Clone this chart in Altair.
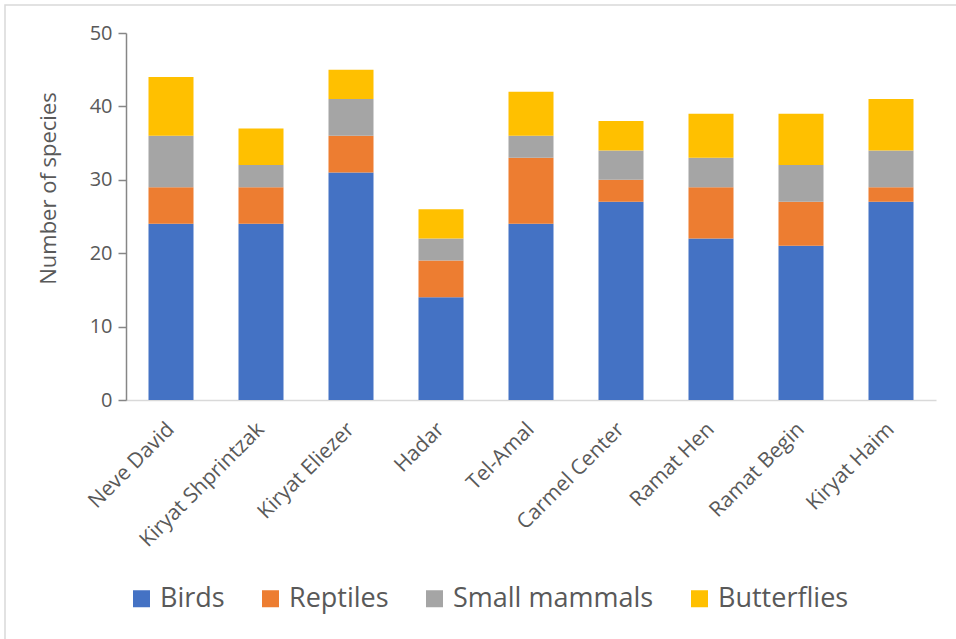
import altair as alt
import pandas as pd

# Neighbourhoods along the x axis, left to right
sites = ["Neve David", "Kiryat Shprintzak", "Kiryat Eliezer", "Hadar", "Tel-Amal",
         "Carmel Center", "Ramat Hen", "Ramat Begin", "Kiryat Haim"]

# Species counts per taxon group
birds = [24, 24, 31, 14, 24, 27, 22, 21, 27]
reptiles = [5, 5, 5, 5, 9, 3, 7, 6, 2]
small_mammals = [7, 3, 5, 3, 3, 4, 4, 5, 5]
butterflies = [8, 5, 4, 4, 6, 4, 6, 7, 7]

groups = ["Birds", "Reptiles", "Small mammals", "Butterflies"]
colors = ["#4472C4", "#ED7D31", "#A5A5A5", "#FFC000"]

rows = []
for gi, (name, vals) in enumerate(zip(groups, [birds, reptiles, small_mammals, butterflies])):
    for site, v in zip(sites, vals):
        rows.append({"site": site, "group": name, "count": v, "order": gi})
df = pd.DataFrame(rows)

FONT = "Open Sans"
TXT = "#595959"

bars = alt.Chart(df).mark_bar(size=45).encode(
    x=alt.X("site:N", sort=sites, title=None,
            scale=alt.Scale(paddingInner=0.5, paddingOuter=0.25),
            axis=alt.Axis(labelAngle=-45, labelAlign="right", labelBaseline="middle",
                          labelPadding=26, labelFontSize=21, labelColor=TXT, labelFont=FONT,
                          ticks=False, domainColor="#D9D9D9", domainWidth=1.5,
                          labelOverlap=False, labelLimit=0)),
    y=alt.Y("count:Q", stack="zero", title="Number of species",
            scale=alt.Scale(domain=[0, 50], nice=False),
            axis=alt.Axis(values=[0, 10, 20, 30, 40, 50], grid=False,
                          labelFontSize=20, labelColor=TXT, labelFont=FONT, labelPadding=6,
                          tickSize=8, tickColor="#868686", tickWidth=1.5,
                          domainColor="#868686", domainWidth=1.5,
                          titleFontSize=22, titleFont=FONT, titleColor=TXT,
                          titleFontWeight="normal", titleX=-78, titleY=155,
                          titleAngle=-90, titleBaseline="middle", titleAlign="center")),
    color=alt.Color("group:N", sort=groups,
                    scale=alt.Scale(domain=groups, range=colors),
                    legend=alt.Legend(title=None, orient="none", direction="horizontal",
                                      legendX=2, legendY=552,
                                      symbolType="square", symbolSize=289,
                                      symbolStrokeWidth=0, labelFontSize=27,
                                      labelFont=FONT, labelColor=TXT, labelOffset=5,
                                      labelLimit=0, columnPadding=32, symbolOpacity=1)),
    order=alt.Order("order:Q", sort="ascending"),
)

# Light frame around the figure; its right and bottom edges run past the page
frame = alt.Chart().mark_rect(fillOpacity=0, stroke="#D9D9D9", strokeWidth=1.5).encode(
    x=alt.value(-121), x2=alt.value(900), y=alt.value(-28), y2=alt.value(700))

chart = alt.layer(bars, frame).properties(
    width=810, height=367,
    background="white",
    autosize=alt.AutoSizeParams(type="none"),
    padding={"left": 126, "top": 33, "right": 20, "bottom": 239},
).configure_view(strokeWidth=0, stroke="transparent")

chart.save("out.html", embed_options={"renderer": "svg", "actions": False})
